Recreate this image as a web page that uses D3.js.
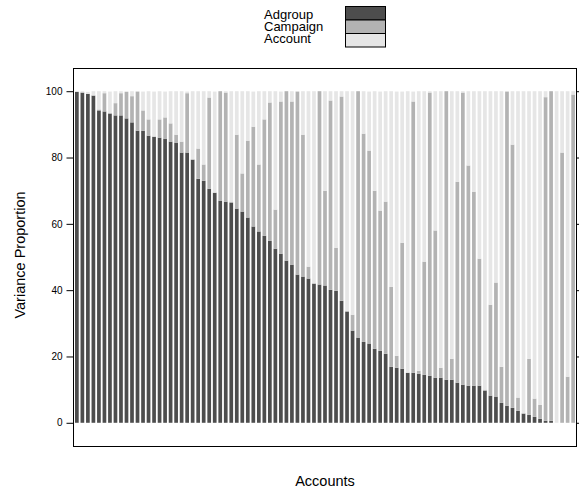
<!DOCTYPE html>
<html>
<head>
<meta charset="utf-8">
<script src="https://cdn.jsdelivr.net/npm/d3@7"></script>
<style>
  body { margin: 0; background: #fff; }
  text { font-family: "Liberation Sans", Arial, Helvetica, sans-serif; }
</style>
</head>
<body>
<svg width="579" height="489"></svg>
<script>
// stacked variance proportion per account

var adgroup = [99.8, 99.6, 99.2, 98.7, 94.2, 93.9, 93.3, 92.7, 92.7, 91.8,
  90.6, 88.1, 88.1, 86.6, 86.3, 86.0, 85.7, 84.8, 84.5, 81.5,
  81.5, 79.4, 73.6, 73.0, 70.6, 69.4, 67.0, 66.7, 66.4, 64.6,
  63.7, 61.9, 59.2, 57.7, 56.4, 54.9, 52.5, 51.0, 48.9, 47.7,
  44.7, 44.1, 43.5, 42.0, 41.7, 41.4, 40.1, 39.8, 36.8, 33.5,
  27.8, 25.7, 24.4, 23.9, 22.3, 21.7, 20.8, 16.9, 16.6, 16.3,
  15.1, 15.1, 14.8, 14.5, 14.2, 13.6, 13.6, 13.0, 13.0, 12.1,
  11.5, 11.2, 11.2, 11.2, 9.7, 8.2, 7.9, 6.0, 5.1, 4.5,
  3.6, 2.8, 2.4, 1.8, 1.2, 0.6, 0.6, 0, 0, 0, 0];
var campaign = [0, 0, 0, 0, 0.3, 5.5, 0, 3.7, 6.7, 8.0,
  7.9, 11.8, 6.1, 4.9, 0, 5.5, 6.4, 5.5, 2.4, 3.3,
  17.9, 0, 9.1, 4.9, 27.5, 0, 33.0, 32.9, 0.3, 22.3,
  11.5, 23.2, 30.1, 20.2, 35.1, 41.7, 11.8, 45.9, 51.1, 49.2,
  55.2, 42.8, 3.6, 0, 58.3, 28.6, 57.1, 13.0, 61.6, 0.3,
  4.8, 74.3, 62.8, 58.2, 47.7, 42.3, 45.9, 24.1, 3.6, 38.0,
  0, 81.8, 0.9, 34.1, 85.4, 44.4, 3.0, 87.0, 6.3, 60.6,
  88.1, 66.4, 58.5, 38.3, 0.3, 27.4, 34.4, 10.9, 94.8, 79.4,
  4.0, 0, 16.9, 5.5, 4.2, 97.6, 99.4, 0, 81.5, 13.9, 99.0];
var account = [0.2, 0.4, 0.6, 1.3, 5.5, 0.6, 6.6, 3.6, 0.6, 0.2,
  1.5, 0.1, 5.7, 8.5, 13.6, 8.5, 7.8, 9.7, 13.1, 15.2,
  0.5, 20.6, 17.3, 22.1, 1.9, 30.5, 0, 0.4, 33.3, 13.1,
  24.8, 14.9, 10.6, 22.1, 8.5, 3.4, 35.7, 3.0, 0, 3.1,
  0.1, 13.1, 52.9, 58.0, 0, 30.0, 2.8, 47.2, 1.6, 66.2,
  67.4, 0, 12.8, 17.8, 30.0, 35.9, 33.3, 59.0, 79.7, 45.6,
  84.9, 3.0, 84.3, 51.4, 0.4, 42.0, 83.4, 0, 80.7, 27.3,
  0.4, 22.4, 30.3, 50.5, 90.0, 64.4, 57.7, 83.1, 0.1, 16.1,
  92.4, 97.2, 80.7, 92.7, 94.6, 1.8, 0, 100, 18.5, 86.1, 1.0];
var seriesNames = ['Adgroup', 'Campaign', 'Account'];
var yTicks = [0, 20, 40, 60, 80, 100];

var colors = ['#4d4d4d', '#b3b3b3', '#e6e6e6'];

var svg = d3.select('svg');
var plotLeft = 73, plotRight = 577, plotTop = 68, plotBottom = 446;

var rows = adgroup.map(function(v, i){
  return { id: i + 1, Adgroup: v, Campaign: campaign[i], Account: account[i] };
});
var stacked = d3.stack().keys(seriesNames)(rows);

var xScale = d3.scaleLinear()
  .domain([0.3, rows.length + 0.7])
  .range([plotLeft, plotRight]);
var yScale = d3.scaleLinear()
  .domain([-7, 107])
  .range([plotBottom, plotTop]);
var barW = 3.7;

svg.append('g')
  .selectAll('g')
  .data(stacked)
  .enter()
  .append('g')
  .attr('fill', function(d, i){ return colors[i]; })
  .selectAll('rect')
  .data(function(d){ return d; })
  .enter()
  .append('rect')
  .attr('x', function(d){ return xScale(d.data.id) - barW / 2; })
  .attr('width', barW)
  .attr('y', function(d){ return yScale(d[1]); })
  .attr('height', function(d){ return Math.max(0, yScale(d[0]) - yScale(d[1])); });

// frame
svg.append('rect')
  .attr('x', plotLeft + 0.5).attr('y', plotTop + 0.5)
  .attr('width', plotRight - plotLeft - 1).attr('height', plotBottom - plotTop)
  .attr('fill', 'none').attr('stroke', '#000').attr('stroke-width', 1);

// y axis (left with labels, right ticks only)
var yAxis = d3.axisLeft(yScale).tickValues(yTicks).tickSize(7).tickPadding(4);
var gy = svg.append('g')
  .attr('transform', 'translate(' + (plotLeft + 0.5) + ',0)')
  .call(yAxis);
gy.select('.domain').remove();
gy.selectAll('text').attr('font-size', 10).attr('fill', '#000')
  .style('font-family', '"Liberation Sans", Arial, sans-serif');

var gy2 = svg.append('g')
  .attr('transform', 'translate(' + (plotRight - 0.5) + ',0)')
  .call(d3.axisRight(yScale).tickValues(yTicks).tickSize(7).tickFormat(''));
gy2.select('.domain').remove();

// axis titles
svg.append('text')
  .attr('transform', 'translate(25,255) rotate(-90)')
  .attr('text-anchor', 'middle')
  .attr('font-size', 14.5)
  .text('Variance Proportion');
svg.append('text')
  .attr('x', (plotLeft + plotRight) / 2)
  .attr('y', 486)
  .attr('text-anchor', 'middle')
  .attr('font-size', 14.5)
  .text('Accounts');

// legend
var legend = svg.append('g');
seriesNames.forEach(function(name, i){
  legend.append('rect')
    .attr('x', 345.5).attr('y', 6.5 + i * 13.5)
    .attr('width', 40).attr('height', 13.5)
    .attr('fill', colors[i]).attr('stroke', '#000');
  legend.append('text')
    .attr('x', 264)
    .attr('y', 18.5 + i * 12)
    .attr('font-size', 13)
    .text(name);
});
</script>
</body>
</html>
